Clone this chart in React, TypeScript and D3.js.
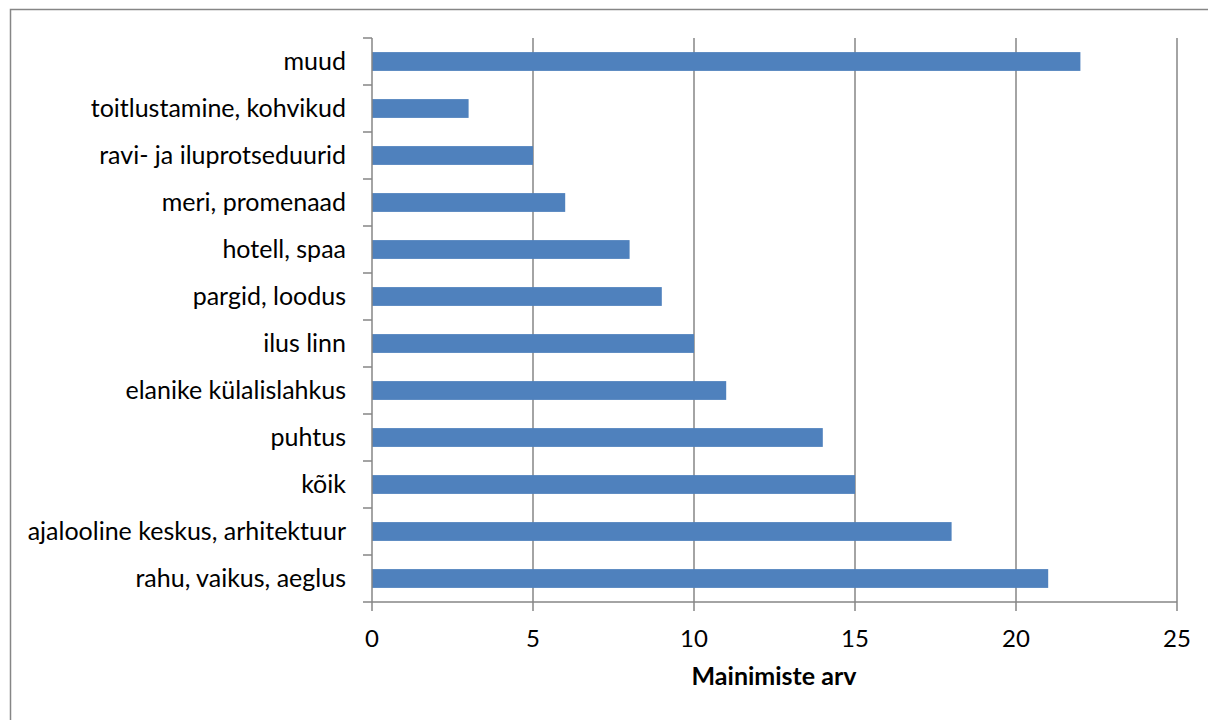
import React, { useEffect, useRef } from 'react';
import * as d3 from 'd3';

// categories top to bottom as in the chart
const categories = [
  'muud',
  'toitlustamine, kohvikud',
  'ravi- ja iluprotseduurid',
  'meri, promenaad',
  'hotell, spaa',
  'pargid, loodus',
  'ilus linn',
  'elanike külalislahkus',
  'puhtus',
  'kõik',
  'ajalooline keskus, arhitektuur',
  'rahu, vaikus, aeglus',
];
const values = [22, 3, 5, 6, 8, 9, 10, 11, 14, 15, 18, 21];
const xTicks = [0, 5, 10, 15, 20, 25];
const xTitle = 'Mainimiste arv';

export default function App() {
  const ref = useRef<SVGSVGElement>(null);

  useEffect(() => {
    document.body.style.margin = '0';
    const svg = d3.select(ref.current);
    svg.selectAll('*').remove();

    const left = 372, right = 1177, top = 38, bottom = 602;
    const font = "Lato, 'Open Sans', sans-serif";
    const gray = '#868686';

    // outer frame (only top and left visible)
    svg.append('rect')
      .attr('x', 10.5).attr('y', 9.5)
      .attr('width', 1300).attr('height', 800)
      .attr('fill', 'white').attr('stroke', gray).attr('stroke-width', 1.5);

    const x = d3.scaleLinear().domain([0, 25]).range([left, right]);
    const y = d3.scaleBand().domain(categories).range([top, bottom]).paddingInner(0.6).paddingOuter(0.3);
    const band = d3.scaleBand().domain(categories).range([top, bottom]);

    const g = svg.append('g');

    // vertical gridlines
    g.selectAll('line.grid')
      .data(xTicks.filter(t => t > 0))
      .enter().append('line')
      .attr('x1', d => x(d)).attr('x2', d => x(d))
      .attr('y1', top).attr('y2', bottom)
      .attr('stroke', gray).attr('stroke-width', 1.5);

    // bars
    g.selectAll('rect.bar')
      .data(values)
      .enter().append('rect')
      .attr('x', x(0))
      .attr('y', (d, i) => y(categories[i]) as number)
      .attr('width', d => x(d) - x(0))
      .attr('height', y.bandwidth())
      .attr('fill', '#4F81BD');

    // y axis line and ticks
    g.append('line')
      .attr('x1', left).attr('x2', left).attr('y1', top).attr('y2', bottom)
      .attr('stroke', gray).attr('stroke-width', 1.5);
    const yTickPos = categories.map(c => band(c) as number).concat([bottom]);
    g.selectAll('line.ytick')
      .data(yTickPos)
      .enter().append('line')
      .attr('x1', left - 9).attr('x2', left)
      .attr('y1', d => d).attr('y2', d => d)
      .attr('stroke', gray).attr('stroke-width', 1.5);

    // x axis line and ticks
    g.append('line')
      .attr('x1', left).attr('x2', right).attr('y1', bottom).attr('y2', bottom)
      .attr('stroke', gray).attr('stroke-width', 1.5);
    g.selectAll('line.xtick')
      .data(xTicks)
      .enter().append('line')
      .attr('x1', d => x(d)).attr('x2', d => x(d))
      .attr('y1', bottom).attr('y2', bottom + 9)
      .attr('stroke', gray).attr('stroke-width', 1.5);

    // category labels
    g.selectAll('text.ylab')
      .data(categories)
      .enter().append('text')
      .attr('x', left - 26)
      .attr('y', d => (band(d) as number) + band.bandwidth() / 2)
      .attr('dy', '0.34em')
      .attr('text-anchor', 'end')
      .attr('font-family', font)
      .attr('font-size', 25)
      .attr('fill', '#000')
      .text(d => d);

    // x tick labels
    g.selectAll('text.xlab')
      .data(xTicks)
      .enter().append('text')
      .attr('x', d => x(d))
      .attr('y', 647)
      .attr('text-anchor', 'middle')
      .attr('font-family', font)
      .attr('font-size', 24)
      .attr('fill', '#000')
      .text(d => d);

    // axis title
    g.append('text')
      .attr('x', 774)
      .attr('y', 685)
      .attr('text-anchor', 'middle')
      .attr('font-family', font)
      .attr('font-size', 25)
      .attr('font-weight', 'bold')
      .attr('fill', '#000')
      .text(xTitle);
  }, []);

  return <svg ref={ref} width={1208} height={720} style={{ display: 'block' }}></svg>;
}
